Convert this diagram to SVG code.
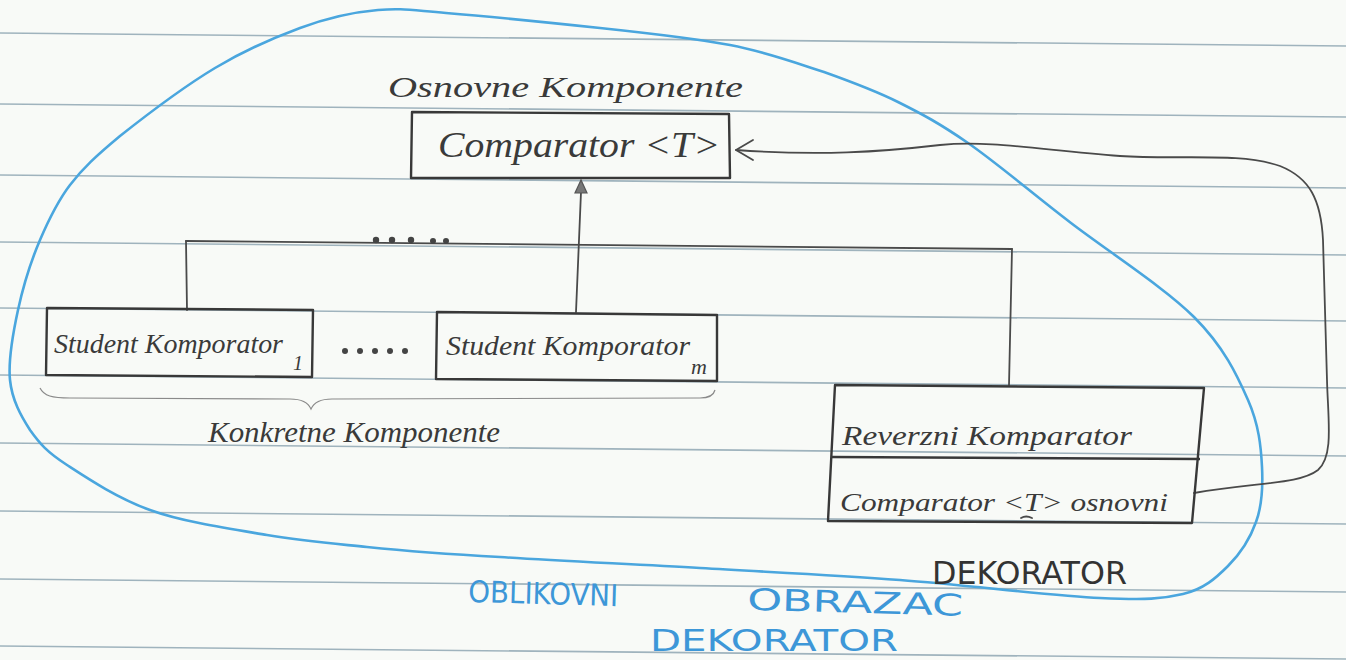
<svg xmlns="http://www.w3.org/2000/svg" width="1346" height="660" viewBox="0 0 1346 660">
<style>
.rule{stroke:#9fb3bd;stroke-width:1.6;fill:none}
.box{fill:none;stroke:#383838;stroke-width:2.4;stroke-linejoin:round}
.conn{fill:none;stroke:#4a4a4a;stroke-width:1.8;stroke-linecap:round;stroke-linejoin:round}
.hand{font-family:"Liberation Serif",serif;font-style:italic;fill:#3a3a3a}
.caps{font-family:"DejaVu Sans",sans-serif;fill:#333}
.blue{font-family:"DejaVu Sans",sans-serif;fill:#3d97d8}
.dot{fill:#444}
</style>
<rect width="1346" height="660" fill="#f8faf7"/>
<g id="paper-lines">
<line class="rule" x1="0" y1="33" x2="1346" y2="46"/>
<line class="rule" x1="0" y1="104" x2="1346" y2="117"/>
<line class="rule" x1="0" y1="175" x2="1346" y2="188"/>
<line class="rule" x1="0" y1="242" x2="1346" y2="255"/>
<line class="rule" x1="0" y1="308" x2="1346" y2="321"/>
<line class="rule" x1="0" y1="375" x2="1346" y2="388"/>
<line class="rule" x1="0" y1="443" x2="1346" y2="456"/>
<line class="rule" x1="0" y1="511" x2="1346" y2="524"/>
<line class="rule" x1="0" y1="579" x2="1346" y2="592"/>
<line class="rule" x1="0" y1="646" x2="1346" y2="659"/>
</g>
<g id="pattern-outline">
<path fill="none" stroke="#4aa6de" stroke-width="2.6" stroke-linecap="round" d="M10,380 C8,360 13,333 18,310 C23,287 31,261 40,240 C49,219 57,202 70,185 C83,168 96,156 120,136 C144,117 185,86 215,68 C245,50 273,38 300,28 C327,18 354,12 378,10 C402,8 409,10 446,13 C483,16 553,23 600,28 C647,33 693,38 730,45 C767,52 796,63 824,72 C852,82 874,90 898,102 C922,114 939,123 968,143 C997,163 1033,194 1071,223 C1109,252 1165,288 1194,317 C1224,347 1237,375 1248,400 C1259,425 1261,447 1262,467 C1263,487 1262,506 1256,522 C1250,539 1240,554 1228,566 C1216,578 1204,589 1183,594 C1162,599 1147,600 1100,598 C1053,596 967,585 900,580 C833,575 767,572 700,568 C633,564 556,561 500,557 C445,554 406,551 367,547 C328,543 303,541 267,535 C231,529 183,522 150,510 C117,498 87,478 67,465 C47,452 40,444 30,430 C21,416 12,400 10,380 Z"/>
<text class="blue" font-size="30" transform="rotate(1.6 470 602)"><tspan x="468" y="602" textLength="150" lengthAdjust="spacingAndGlyphs">OBLIKOVNI</tspan><tspan x="747" y="602" textLength="216" lengthAdjust="spacingAndGlyphs">OBRAZAC</tspan></text>
<text class="blue" x="650" y="651" font-size="31" textLength="248" lengthAdjust="spacingAndGlyphs">DEKORATOR</text>
</g>
<g id="connectors">
<path class="conn" d="M576,312 L581,192"/>
<path d="M581,180 L575,193 L587,193 Z" fill="#777" stroke="#555" stroke-width="1.2"/>
<path class="conn" d="M186,241 L1012,249"/>
<circle class="dot" cx="376" cy="240" r="3.2"/>
<circle class="dot" cx="392" cy="240" r="3.2"/>
<circle class="dot" cx="411" cy="240" r="3.2"/>
<circle class="dot" cx="433" cy="241" r="3"/>
<circle class="dot" cx="446" cy="241" r="3"/>
<path class="conn" d="M186,241 L187,310"/>
<path class="conn" d="M1012,249 L1009,385"/>
<path class="conn" d="M1194,493 C1260,482 1300,484 1318,470 C1334,456 1328,420 1327,380 L1323,240 C1321,200 1310,178 1280,166 C1240,152 1180,160 1120,156 C1040,150 990,140 940,145 C880,152 820,156 736,150"/>
<path class="conn" d="M753,140 L736,150 L753,160"/>
</g>
<g id="node-comparator">
<text class="hand" x="388" y="97" font-size="30" textLength="355" lengthAdjust="spacingAndGlyphs">Osnovne Komponente</text>
<path class="box" d="M412,112 L729,114 L730,178 L411,178 Z" stroke-width="3"/>
<text class="hand" x="438" y="157" font-size="36" textLength="282" lengthAdjust="spacingAndGlyphs">Comparator &lt;T&gt;</text>
</g>
<g id="node-student-1">
<path class="box" d="M47,308 L313,310 L312,377 L46,375 Z"/>
<text class="hand" x="54" y="353" font-size="28" textLength="229" lengthAdjust="spacingAndGlyphs">Student Komporator</text>
<text class="hand" x="293" y="370" font-size="20">1</text>
</g>
<g id="ellipsis-dots">
<circle class="dot" cx="345" cy="351" r="3"/>
<circle class="dot" cx="360" cy="351" r="3"/>
<circle class="dot" cx="375" cy="351" r="3"/>
<circle class="dot" cx="390" cy="351" r="3"/>
<circle class="dot" cx="405" cy="351" r="3"/>
</g>
<g id="node-student-m">
<path class="box" d="M437,312 L717,315 L717,381 L436,379 Z"/>
<text class="hand" x="446" y="355" font-size="28" textLength="244" lengthAdjust="spacingAndGlyphs">Student Komporator</text>
<text class="hand" x="691" y="374" font-size="22">m</text>
</g>
<g id="concrete-components">
<path fill="none" stroke="#8a8a8a" stroke-width="1.2" d="M40,388 C44,396 52,398 70,398 L290,399 C302,399 308,402 311,409 C314,402 320,399 332,399 L700,398 C710,398 714,394 715,390"/>
<text class="hand" x="208" y="442" font-size="30" textLength="292" lengthAdjust="spacingAndGlyphs">Konkretne Komponente</text>
</g>
<g id="node-decorator">
<path class="box" d="M835,385 L1204,388 L1192,523 L828,521 Z"/>
<path class="box" d="M831,457 L1200,459"/>
<text class="hand" x="842" y="445" font-size="27" textLength="290" lengthAdjust="spacingAndGlyphs">Reverzni Komparator</text>
<text class="hand" x="840" y="511" font-size="26" textLength="328" lengthAdjust="spacingAndGlyphs">Comparator &lt;T&gt; osnovni</text>
<path class="conn" d="M1021,518 Q1026,515 1032,518" stroke-width="1.4"/>
<text class="caps" x="932" y="584" font-size="32" textLength="195" lengthAdjust="spacingAndGlyphs">DEKORATOR</text>
</g>
</svg>
